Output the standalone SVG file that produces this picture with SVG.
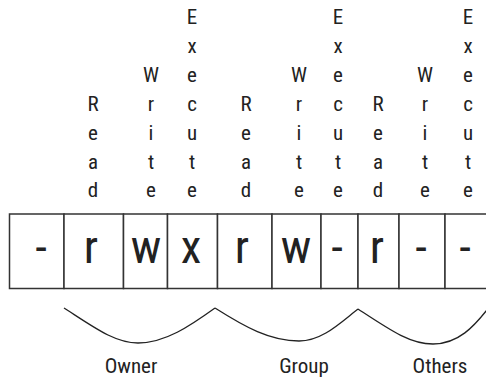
<svg xmlns="http://www.w3.org/2000/svg" width="486" height="378" viewBox="0 0 486 378">
<style>
text{font-family:"Liberation Sans Narrow","Roboto Condensed","DejaVu Sans Condensed","Liberation Sans",sans-serif;fill:#222;text-anchor:middle}
.v{font-size:21px}
.big{font-size:47px}
.lbl{font-size:21px}
.cell{fill:#fff;stroke:#333;stroke-width:1.5}
.brace{fill:none;stroke:#222;stroke-width:1.3}
</style>
<rect width="486" height="378" fill="#fff"/>
<g id="labels-vertical">
<text class="v" x="93" y="111">R</text><text class="v" x="93" y="140">e</text><text class="v" x="93" y="169">a</text><text class="v" x="93" y="197">d</text>
<text class="v" x="151" y="82">W</text><text class="v" x="151" y="111">r</text><text class="v" x="151" y="140">i</text><text class="v" x="151" y="169">t</text><text class="v" x="151" y="197">e</text>
<text class="v" x="192" y="24">E</text><text class="v" x="192" y="53">x</text><text class="v" x="192" y="82">e</text><text class="v" x="192" y="111">c</text><text class="v" x="192" y="140">u</text><text class="v" x="192" y="169">t</text><text class="v" x="192" y="197">e</text>
<text class="v" x="246" y="111">R</text><text class="v" x="246" y="140">e</text><text class="v" x="246" y="169">a</text><text class="v" x="246" y="197">d</text>
<text class="v" x="299" y="82">W</text><text class="v" x="299" y="111">r</text><text class="v" x="299" y="140">i</text><text class="v" x="299" y="169">t</text><text class="v" x="299" y="197">e</text>
<text class="v" x="338" y="24">E</text><text class="v" x="338" y="53">x</text><text class="v" x="338" y="82">e</text><text class="v" x="338" y="111">c</text><text class="v" x="338" y="140">u</text><text class="v" x="338" y="169">t</text><text class="v" x="338" y="197">e</text>
<text class="v" x="378" y="111">R</text><text class="v" x="378" y="140">e</text><text class="v" x="378" y="169">a</text><text class="v" x="378" y="197">d</text>
<text class="v" x="425" y="82">W</text><text class="v" x="425" y="111">r</text><text class="v" x="425" y="140">i</text><text class="v" x="425" y="169">t</text><text class="v" x="425" y="197">e</text>
<text class="v" x="468" y="24">E</text><text class="v" x="468" y="53">x</text><text class="v" x="468" y="82">e</text><text class="v" x="468" y="111">c</text><text class="v" x="468" y="140">u</text><text class="v" x="468" y="169">t</text><text class="v" x="468" y="197">e</text>
</g>
<g id="cell-type"><rect class="cell" x="9.5" y="214" width="54.5" height="74.5"/><text class="big" x="41" y="263">-</text></g>
<g id="cell-owner-r"><rect class="cell" x="64" y="214" width="59.5" height="74.5"/><text class="big" x="91" y="263">r</text></g>
<g id="cell-owner-w"><rect class="cell" x="123.5" y="214" width="44" height="74.5"/><text class="big" x="146" y="263">w</text></g>
<g id="cell-owner-x"><rect class="cell" x="167.5" y="214" width="50" height="74.5"/><text class="big" x="191" y="263">x</text></g>
<g id="cell-group-r"><rect class="cell" x="217.5" y="214" width="54.5" height="74.5"/><text class="big" x="242" y="263">r</text></g>
<g id="cell-group-w"><rect class="cell" x="272" y="214" width="49" height="74.5"/><text class="big" x="296" y="263">w</text></g>
<g id="cell-group-x"><rect class="cell" x="321" y="214" width="37" height="74.5"/><text class="big" x="337" y="263">-</text></g>
<g id="cell-others-r"><rect class="cell" x="358" y="214" width="41" height="74.5"/><text class="big" x="377" y="263">r</text></g>
<g id="cell-others-w"><rect class="cell" x="399" y="214" width="46" height="74.5"/><text class="big" x="421" y="263">-</text></g>
<g id="cell-others-x"><rect class="cell" x="445" y="214" width="43" height="74.5"/><text class="big" x="465" y="263">-</text></g>
<g id="connectors">
<path class="brace" d="M64,308 C95,328 115,343 138,343 C165,343 190,326 215,308"/>
<path class="brace" d="M215,308 C245,327 270,341 299,341 C322,341 340,323 358,309"/>
<path class="brace" d="M358,309 C390,330 410,344 433,344 C458,344 474,327 490,306"/>
</g>
<g id="group-labels">
<text class="lbl" x="131" y="373">Owner</text>
<text class="lbl" x="304" y="373">Group</text>
<text class="lbl" x="440" y="373">Others</text>
</g>
</svg>
